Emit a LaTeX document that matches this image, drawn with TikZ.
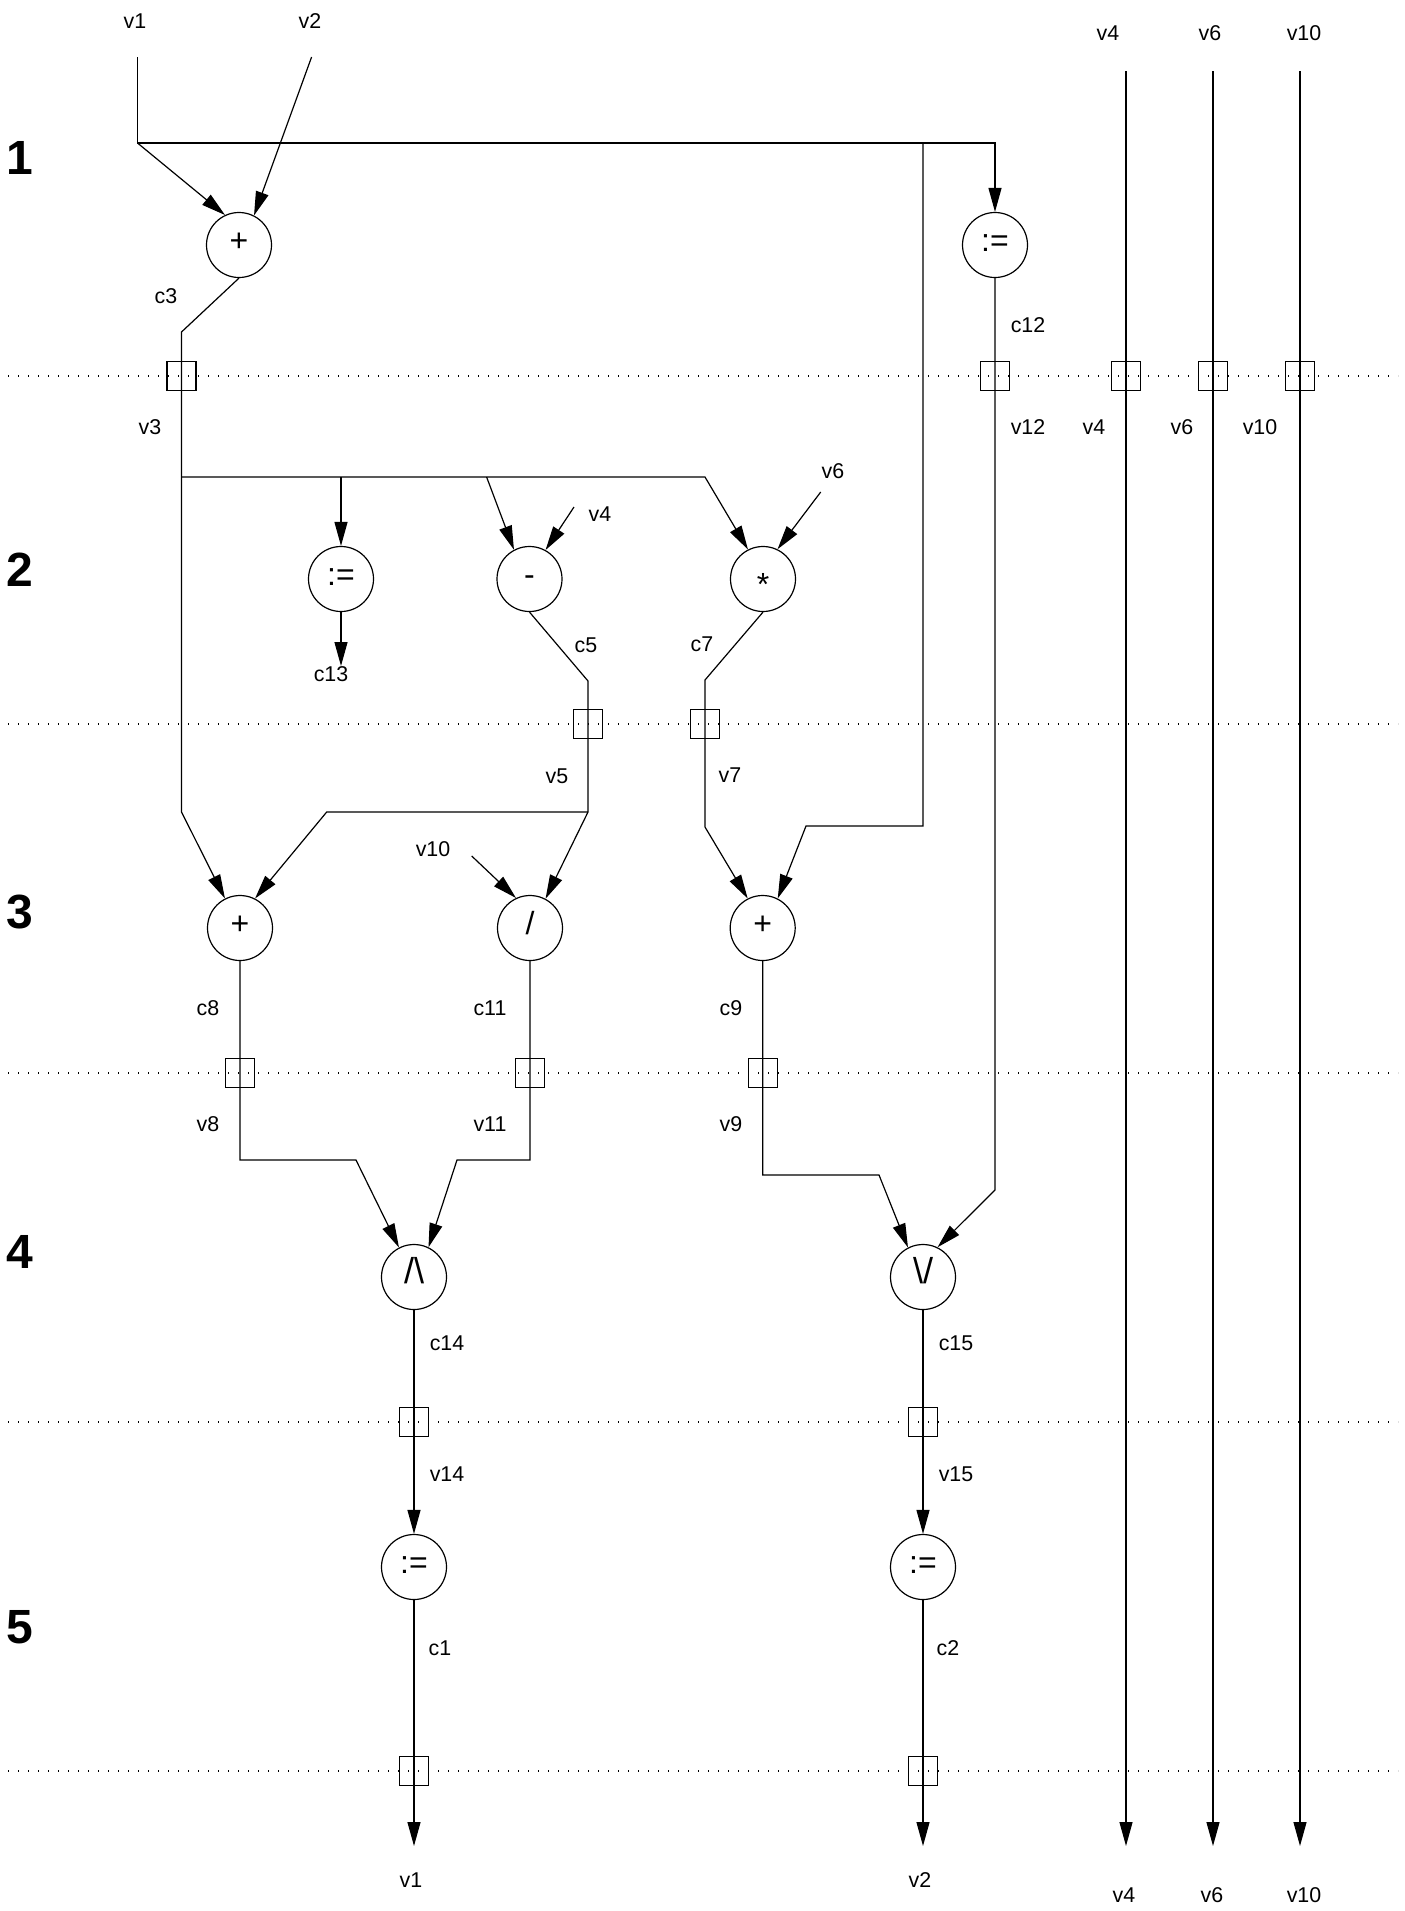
\documentclass[tikz,border=0pt]{standalone}
\usepackage{fontspec}
\setmainfont{Liberation Sans}
\usetikzlibrary{arrows.meta}

\begin{document}
\begin{tikzpicture}[x=0.5pt,y=-0.5pt, >={Triangle[length=12pt,width=6.5pt]}, line width=0.6pt,
 op/.style={draw,circle,minimum size=32.5pt,inner sep=0pt,text height=1.5ex,text depth=.25ex,font=\fontsize{16}{16}\selectfont},
 reg/.style={draw,rectangle,minimum size=14.5pt,inner sep=0pt},
 lbl/.style={inner sep=0pt,font=\fontsize{10.7}{12}\selectfont},
 rownum/.style={inner sep=0pt,font=\fontsize{24}{24}\selectfont\bfseries},
 sep/.style={dash pattern=on 0.6pt off 4.4pt}]
\useasboundingbox (0,0) rectangle (1404,1911);

\foreach \r/\y in {1/158,2/570,3/912,4/1252,5/1627} \node[rownum] (row\r) at (20,\y) {\r};
\foreach \y in {376,724,1073,1422,1771} \draw[sep] (8,\y) -- (1398,\y);

\node[op] (add3) at (239,245) {+};
\node[op] (asg12) at (995,245) {:=};
\node[op] (asg13) at (341,579) {:=};
\node[op] (sub5) at (529.5,579) {-};
\node[op] (mul7) at (763,579) {\raisebox{-0.3em}{*}};
\node[op] (add8) at (240,928) {+};
\node[op] (div11) at (530,928) {/};
\node[op] (add9) at (762.7,928) {+};
\node[op,font=\fontsize{18}{18}\selectfont] (and14) at (414,1277) {/\textbackslash};
\node[op,font=\fontsize{18}{18}\selectfont] (or15) at (923,1277) {\textbackslash/};
\node[op] (asg1) at (414,1567) {:=};
\node[op] (asg2) at (923,1567) {:=};

\node[reg] (b3) at (181.5,376) {};
\node[reg] (b12) at (995,376) {};
\node[reg] (bv4) at (1126,376) {};
\node[reg] (bv6) at (1213,376) {};
\node[reg] (bv10) at (1300,376) {};
\node[reg] (b5) at (588,724) {};
\node[reg] (b7) at (705,724) {};
\node[reg] (b8) at (240,1073) {};
\node[reg] (b11) at (530,1073) {};
\node[reg] (b9) at (762.7,1073) {};
\node[reg] (b14) at (414,1422) {};
\node[reg] (b15) at (923,1422) {};
\node[reg] (b1) at (414,1771) {};
\node[reg] (b2) at (923,1771) {};

\coordinate (v1in) at (137.5,57);
\coordinate (v2in) at (311.6,57);
\coordinate (v4in) at (1126,71);
\coordinate (v6in) at (1213,71);
\coordinate (v10in) at (1300,71);
\coordinate (v4s) at (574,507);
\coordinate (v6s) at (820.7,492);
\coordinate (v10s) at (471.7,856);
\coordinate (j1) at (137.5,143);
\coordinate (j1r) at (923,143);
\coordinate (j3) at (181.5,477);
\coordinate (j5) at (588,812);
\coordinate (c13end) at (341,666);
\coordinate (v1out) at (414,1846);
\coordinate (v2out) at (923,1846);
\coordinate (v4out) at (1126,1846);
\coordinate (v6out) at (1213,1846);
\coordinate (v10out) at (1300,1846);

\node[lbl] (lv1) at (135,21) {v1};
\node[lbl] (lv2) at (310,21) {v2};
\node[lbl] (lv4) at (1108,33) {v4};
\node[lbl] (lv6) at (1210,33) {v6};
\node[lbl] (lv10) at (1304,33) {v10};
\node[lbl] (lc3) at (166,296) {c3};
\node[lbl] (lc12) at (1028,325) {c12};
\node[lbl] (lv3) at (150,427) {v3};
\node[lbl] (lv12) at (1028,427) {v12};
\node[lbl] (lv4b) at (1094,427) {v4};
\node[lbl] (lv6b) at (1182,427) {v6};
\node[lbl] (lv10b) at (1260,427) {v10};
\node[lbl] (lv4c) at (600,514) {v4};
\node[lbl] (lv6c) at (833,471) {v6};
\node[lbl] (lc13) at (331,674) {c13};
\node[lbl] (lc5) at (586,645) {c5};
\node[lbl] (lc7) at (702,644) {c7};
\node[lbl] (lv5) at (557,776) {v5};
\node[lbl] (lv7) at (730,775) {v7};
\node[lbl] (lv10c) at (433,849) {v10};
\node[lbl] (lc8) at (208,1008) {c8};
\node[lbl] (lc11) at (490,1008) {c11};
\node[lbl] (lc9) at (731,1008) {c9};
\node[lbl] (lv8) at (208,1124) {v8};
\node[lbl] (lv11) at (490,1124) {v11};
\node[lbl] (lv9) at (731,1124) {v9};
\node[lbl] (lc14) at (447,1343) {c14};
\node[lbl] (lc15) at (956,1343) {c15};
\node[lbl] (lv14) at (447,1474) {v14};
\node[lbl] (lv15) at (956,1474) {v15};
\node[lbl] (lc1) at (440,1648) {c1};
\node[lbl] (lc2) at (948,1648) {c2};
\node[lbl] (lv1o) at (411,1880) {v1};
\node[lbl] (lv2o) at (920,1880) {v2};
\node[lbl] (lv4o) at (1124,1895) {v4};
\node[lbl] (lv6o) at (1212,1895) {v6};
\node[lbl] (lv10o) at (1304,1895) {v10};

\draw (v1in) -- (j1) -- (j1r);
\draw[->] (j1r) -| (asg12.north);
\draw[->] (j1) -- (add3.115);
\draw[->] (j1r) -- (923,826) -- (806,826) -- (add9.63);
\draw[->] (v2in) -- (add3.63);
\draw[->] (add3.south) -- (181.5,332) -- (b3.center) -- (181.5,812) -- (add8.117);
\draw[->] (j3) -- (705,477) -- (mul7.117);
\draw[->] (asg13 |- j3) -- (asg13);
\draw[->] (486.6,477) -- (sub5.118);
\draw[->] (asg13) -- (c13end);
\draw[->] (v4s) -- (sub5.61);
\draw[->] (v6s) -- (mul7.64);
\draw (sub5.south) -- (588,681) -- (b5.center) -- (j5);
\draw[->] (j5) -- (326.7,812) -- (add8.63);
\draw[->] (j5) -- (div11.62);
\draw[->] (mul7.south) -- (705,680) -- (b7.center) -- (705,827) -- (add9.117);
\draw[->] (v10s) -- (div11.115);
\draw[->] (add8) -- (b8.center) -- (240,1160) -- (356,1160) -- (and14.117);
\draw[->] (div11) -- (b11.center) -- (530,1160) -- (457,1160) -- (and14.64);
\draw[->] (add9) -- (b9.center) -- (762.7,1175) -- (879,1175) -- (or15.117);
\draw[->] (asg12) -- (b12.center) -- (995,1190) -- (or15.64);
\draw[->] (and14) -- (b14.center) -- (asg1);
\draw[->] (or15) -- (b15.center) -- (asg2);
\draw[->] (asg1) -- (b1.center) -- (v1out);
\draw[->] (asg2) -- (b2.center) -- (v2out);
\foreach \v in {v4,v6,v10} \draw[->] (\v in) -- (b\v.center) -- (\v out);
\end{tikzpicture}
\end{document}
